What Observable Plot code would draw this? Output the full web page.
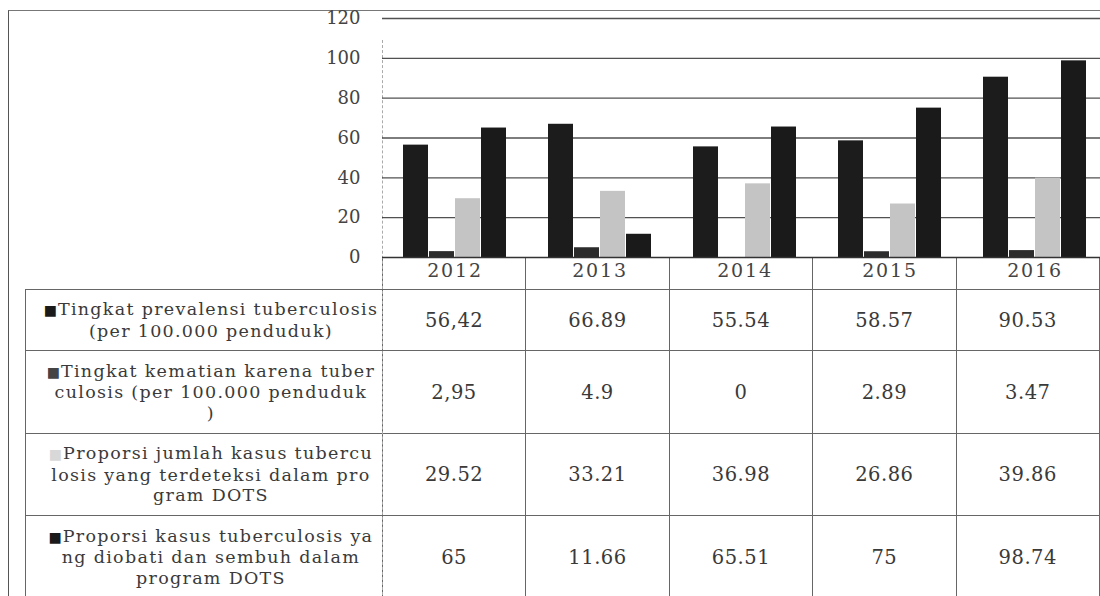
<!DOCTYPE html>
<html>
<head>
<meta charset="utf-8">
<script src="https://cdn.jsdelivr.net/npm/d3@7"></script>
<script src="https://cdn.jsdelivr.net/npm/@observablehq/plot@0.6"></script>
<style>
  html, body { margin: 0; padding: 0; background: #fff; }
  #wrap { position: relative; width: 1100px; height: 596px; overflow: hidden; font-family: "DejaVu Serif", serif; color: #333; }
  #frame { position: absolute; left: 8px; top: 10px; width: 1200px; height: 700px; border-left: 1.5px solid #555; border-top: 1.5px solid #777; }
  #yline { position: absolute; left: 382px; top: 40px; height: 560px; border-left: 1px dashed #aaa; }
  #chart { position: absolute; left: 0; top: 0; width: 1107px; }
  #chart svg { max-width: none !important; }
  #chart svg g[aria-label="fx-axis tick label"] text { letter-spacing: 1.8px; font-size: 19px; }
  table { position: absolute; left: 25px; top: 257px; border-collapse: collapse; table-layout: fixed; font-size: 19.5px; }
  td { border: 1px solid #666; text-align: center; vertical-align: middle; padding: 0; white-space: nowrap; color: #3a3a3a; letter-spacing: 0.5px; }
  td.lab { font-size: 17.5px; line-height: 20.5px; border-right: 1px dashed #888; letter-spacing: 1.3px; padding-left: 14px; }
  tr.head td { height: 32px; border-top: none; }
  tr.head td.blank { border: none; }
  .sw { font-size: 14px; margin-right: 1px; letter-spacing: 0; }
</style>
</head>
<body>
<div id="wrap">
  <div id="frame"></div>
  <table id="tbl"></table>
  <div id="yline"></div>
  <div id="chart"></div>
</div>
<script>
const years = ["2012", "2013", "2014", "2015", "2016"];
const seriesKeys = ["prevalensi", "kematian", "deteksi", "sembuh"];
const seriesLabelLines = [
  ["Tingkat prevalensi tuberculosis", "(per 100.000 penduduk)"],
  ["Tingkat kematian karena tuber", "culosis (per 100.000 penduduk", ")"],
  ["Proporsi jumlah kasus tubercu", "losis yang terdeteksi dalam pro", "gram DOTS"],
  ["Proporsi kasus tuberculosis ya", "ng diobati dan sembuh dalam", "program DOTS"]
];
const seriesColors = ["#1c1c1c", "#2c2c2c", "#c4c4c4", "#1a1a1a"];
const swatchColors = ["#1a1a1a", "#444", "#d8d8d8", "#1a1a1a"];

const prevalensi = [56.42, 66.89, 55.54, 58.57, 90.53];
const kematian = [2.95, 4.9, 0, 2.89, 3.47];
const deteksi = [29.52, 33.21, 36.98, 26.86, 39.86];
const sembuh = [65, 11.66, 65.51, 75, 98.74];

const prevalensiText = ["56,42", "66.89", "55.54", "58.57", "90.53"];
const kematianText = ["2,95", "4.9", "0", "2.89", "3.47"];
const deteksiText = ["29.52", "33.21", "36.98", "26.86", "39.86"];
const sembuhText = ["65", "11.66", "65.51", "75", "98.74"];

const yTicks = [0, 20, 40, 60, 80, 100, 120];

const seriesValues = [prevalensi, kematian, deteksi, sembuh];
const seriesTexts = [prevalensiText, kematianText, deteksiText, sembuhText];

const data = [];
years.forEach((yr, i) => {
  seriesKeys.forEach((k, j) => {
    data.push({year: yr, key: k, value: seriesValues[j][i]});
  });
});

const chart = Plot.plot({
  width: 1107,
  height: 292,
  marginLeft: 382,
  marginRight: 0,
  marginTop: 18,
  marginBottom: 35,
  style: {background: "transparent", fontFamily: "DejaVu Serif, serif", fontSize: "18px", color: "#444", maxWidth: "none"},
  fx: {domain: years, padding: 0, label: null, axis: "bottom", tickSize: 0, tickPadding: 6},
  x: {domain: seriesKeys, axis: null, paddingInner: 0.03, paddingOuter: 0.72},
  y: {domain: [0, 120], ticks: yTicks, label: null, tickSize: 0, tickPadding: 22},
  color: {domain: seriesKeys, range: seriesColors},
  marks: [
    Plot.gridY(yTicks.filter(t => t > 0), {stroke: "#333", strokeOpacity: 0.85, strokeWidth: 1.4}),
    Plot.barY(data, {fx: "year", x: "key", y: "value", fill: "key"}),
    Plot.ruleY([0], {stroke: "#333", strokeWidth: 1.4})
  ]
});
document.getElementById("chart").appendChild(chart);

// data table
const tbl = document.getElementById("tbl");
const colW = [357, 145, 145, 145, 145, 145];
const cg = document.createElement("colgroup");
colW.forEach(w => { const c = document.createElement("col"); c.style.width = w + "px"; cg.appendChild(c); });
tbl.appendChild(cg);
const head = document.createElement("tr");
head.className = "head";
const blank = document.createElement("td"); blank.className = "blank"; head.appendChild(blank);
years.forEach(() => { const td = document.createElement("td"); head.appendChild(td); });
tbl.appendChild(head);
const rowH = [60, 82, 81, 82];
seriesKeys.forEach((k, j) => {
  const tr = document.createElement("tr");
  const lab = document.createElement("td");
  lab.className = "lab";
  lab.style.height = rowH[j] + "px";
  lab.innerHTML = seriesLabelLines[j].map((ln, li) =>
    li === 0 ? `<span class="sw" style="color:${swatchColors[j]}">■</span>${ln}` : ln
  ).join("<br>");
  tr.appendChild(lab);
  seriesTexts[j].forEach(t => { const td = document.createElement("td"); td.textContent = t; tr.appendChild(td); });
  tbl.appendChild(tr);
});
</script>
</body>
</html>
